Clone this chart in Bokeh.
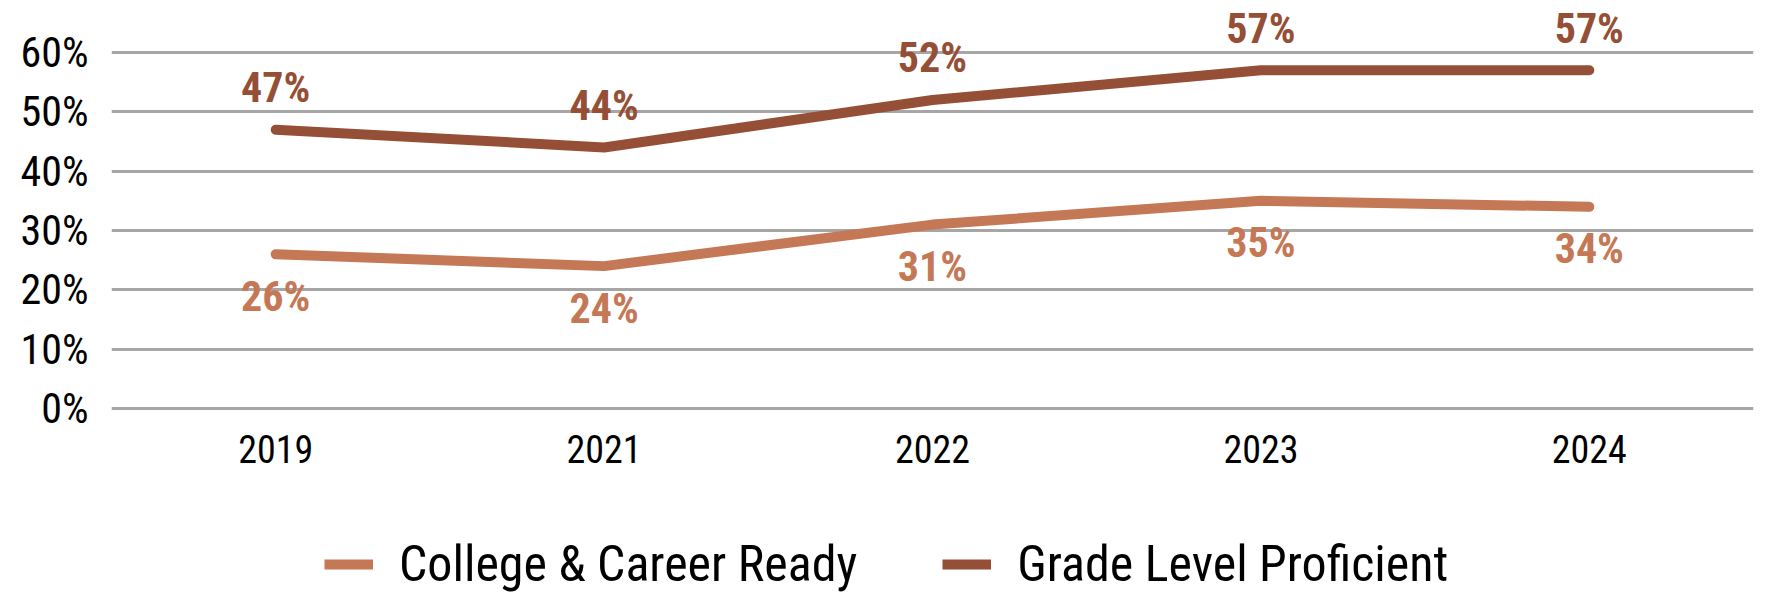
from bokeh.plotting import figure
from bokeh.layouts import column
from bokeh.core.properties import value
from bokeh.models import (Range1d, Legend, LegendItem, ColumnDataSource,
                          LabelSet, FixedTicker)
from bokeh.embed import file_html
from bokeh.resources import INLINE

# Chart data
years = ["2019", "2021", "2022", "2023", "2024"]
college_ready = [26, 24, 31, 35, 34]
grade_level = [47, 44, 52, 57, 57]
y_ticks = [0, 10, 20, 30, 40, 50, 60]
series_names = ["College & Career Ready", "Grade Level Proficient"]

FONT = "Roboto Condensed"
LIGHT = "#C47855"
DARK = "#954F36"
GRID = "#A6A6A6"

src = ColumnDataSource(dict(
    year=years,
    college=college_ready,
    grade=grade_level,
    college_lbl=[f"{v}%" for v in college_ready],
    grade_lbl=[f"{v}%" for v in grade_level],
))

# Main chart: frame spans the full height above the year axis so that the
# value labels over the top gridline stay visible.
p = figure(width=1780, height=500, x_range=years, y_range=Range1d(-2.02, 68.77),
           output_backend="svg", toolbar_location=None,
           min_border_left=111, min_border_right=27,
           min_border_top=0, min_border_bottom=80)
p.outline_line_color = None
p.background_fill_color = "white"
p.border_fill_color = "white"

p.xgrid.grid_line_color = None
p.ygrid.ticker = FixedTicker(ticks=y_ticks)
p.ygrid.grid_line_color = GRID
p.ygrid.grid_line_width = 3

p.yaxis.ticker = FixedTicker(ticks=y_ticks)
p.yaxis.major_label_overrides = {t: f"{t}%" for t in y_ticks}
for ax in (p.xaxis, p.yaxis):
    ax.axis_line_color = None
    ax.major_tick_line_color = None
    ax.minor_tick_line_color = None
    ax.major_label_text_color = "#000000"
    ax.major_label_text_font = FONT
p.yaxis.major_label_text_font_size = "42px"
p.yaxis.major_label_standoff = 17
p.xaxis.major_label_text_font_size = "38px"
p.xaxis.major_label_standoff = 8

line_kw = dict(line_width=10, line_cap="round", line_join="round")
p.line("year", "college", source=src, line_color=LIGHT, **line_kw)
p.line("year", "grade", source=src, line_color=DARK, **line_kw)

label_kw = dict(source=src, text_align="center", text_baseline="middle",
                text_font=value(FONT), text_font_size="42px",
                text_font_style="bold")
p.add_layout(LabelSet(x="year", y="grade", text="grade_lbl", y_offset=42,
                      text_color=DARK, **label_kw))
p.add_layout(LabelSet(x="year", y="college", text="college_lbl", y_offset=-42,
                      text_color=LIGHT, **label_kw))

# Legend strip underneath the chart; its frame lines up with the chart's
# frame, and the series are drawn outside its (empty) visible y window so
# only the legend keys show.
leg = figure(width=1780, height=110, x_range=p.x_range, y_range=Range1d(0, 1),
             x_axis_type=None, y_axis_type=None,
             output_backend="svg", toolbar_location=None,
             min_border_left=111, min_border_right=27,
             min_border_top=0, min_border_bottom=0)
leg.outline_line_color = None
leg.xgrid.grid_line_color = None
leg.ygrid.grid_line_color = None
leg.background_fill_color = "white"
leg.border_fill_color = "white"

key_kw = dict(line_width=10, line_cap="butt")
key_college = leg.line("year", "college", source=src, line_color=LIGHT, **key_kw)
key_grade = leg.line("year", "grade", source=src, line_color=DARK, **key_kw)

legend = Legend(items=[LegendItem(label=series_names[0], renderers=[key_college]),
                       LegendItem(label=series_names[1], renderers=[key_grade])],
                orientation="horizontal", location=(213, 16),
                label_text_font=FONT, label_text_font_size="50px",
                label_text_color="#000000",
                glyph_width=49, glyph_height=60, label_height=60,
                label_standoff=26, spacing=85, padding=0, margin=0,
                border_line_color=None, background_fill_alpha=0)
leg.add_layout(legend)

layout = column(p, leg, spacing=0)
open("out.html", "w").write(file_html(layout, INLINE))
